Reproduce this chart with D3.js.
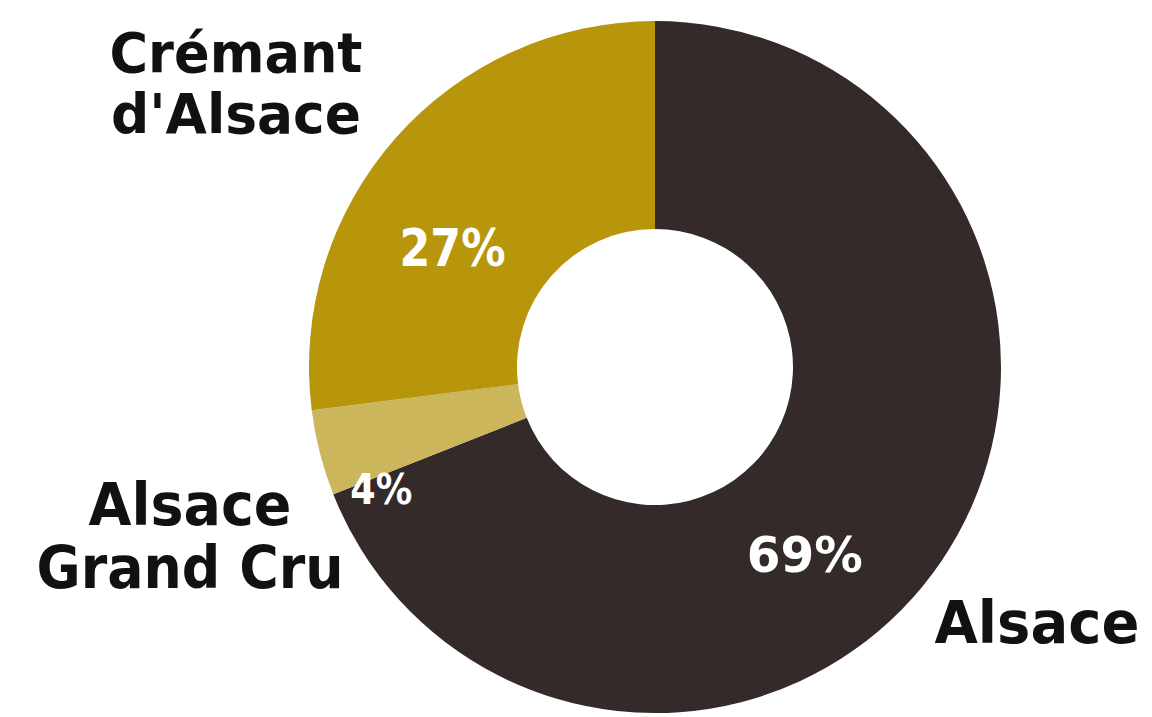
<!DOCTYPE html>
<html>
<head>
<meta charset="utf-8">
<script src="https://cdn.jsdelivr.net/npm/d3@7"></script>
<style>
  html, body { margin: 0; padding: 0; background: #ffffff; }
  svg { display: block; }
  .name { font-family: "DejaVu Sans", sans-serif; font-weight: bold; fill: #111111; }
  .pct { font-family: "DejaVu Sans", sans-serif; font-weight: bold; fill: #ffffff; }
</style>
</head>
<body>
<svg id="chart" width="1152" height="717"></svg>
<script>
// Share of Alsace wine production by appellation (%)
const appellations = ["Alsace", "Alsace Grand Cru", "Crémant d'Alsace"];
const shares = [69, 4, 27];
const sliceColors = ["#342a29", "#cbb65c", "#b8960b"];

// Category names, split over lines
const nameLines = [["Alsace"], ["Alsace", "Grand Cru"], ["Crémant", "d'Alsace"]];

const width = 1152, height = 717;
const cx = 655, cy = 367;
const outerR = 346, innerR = 138;

const svg = d3.select("#chart");
const g = svg.append("g").attr("transform", `translate(${cx},${cy})`);

const pie = d3.pie().sort(null).value(d => d.value);
const data = pie(appellations.map((a, i) => ({ name: a, value: shares[i], color: sliceColors[i] })));

const arc = d3.arc().innerRadius(innerR).outerRadius(outerR);

g.selectAll("path.slice")
  .data(data)
  .join("path")
  .attr("class", "slice")
  .attr("d", arc)
  .attr("fill", d => d.data.color);

// Percentage labels inside the ring
const pctStyle = [
  { r: 240, da: 0.30, size: 50, len: 116 },
  { r: 300, da: -0.17, size: 42, len: 62 },
  { r: 235, da: -0.19, size: 52, len: 106 }
];
data.forEach((d, i) => {
  const s = pctStyle[i];
  const a = (d.startAngle + d.endAngle) / 2 + s.da;
  const x = Math.sin(a) * s.r, y = -Math.cos(a) * s.r;
  g.append("text")
    .attr("class", "pct")
    .attr("x", x)
    .attr("y", y)
    .attr("text-anchor", "middle")
    .attr("dominant-baseline", "central")
    .attr("font-size", s.size)
    .attr("textLength", s.len)
    .attr("lengthAdjust", "spacingAndGlyphs")
    .text(shares[i] + "%");
});

// Category names outside the ring
const nameStyle = [
  { x: 1037, y: [643], widths: [205], anchor: "middle", size: 58 },
  { x: 190, y: [525, 588], widths: [203, 307], anchor: "middle", size: 58 },
  { x: 236, y: [72, 133], widths: [253, 250], anchor: "middle", size: 56 }
];
nameLines.forEach((lines, i) => {
  const s = nameStyle[i];
  lines.forEach((line, j) => {
    svg.append("text")
      .attr("class", "name")
      .attr("x", s.x)
      .attr("y", s.y[j])
      .attr("text-anchor", s.anchor)
      .attr("font-size", s.size)
      .attr("textLength", s.widths[j])
      .attr("lengthAdjust", "spacingAndGlyphs")
      .text(line);
  });
});
</script>
</body>
</html>
